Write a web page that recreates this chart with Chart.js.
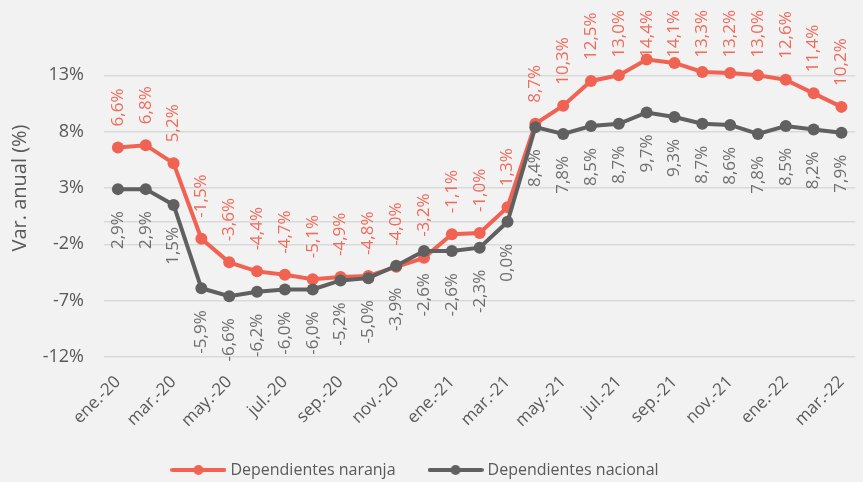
<!DOCTYPE html>
<html>
<head>
<meta charset="utf-8">
<script src="https://cdn.jsdelivr.net/npm/chart.js@4"></script>
<style>
  html, body { margin: 0; padding: 0; background: #f2f2f2; }
  #wrap { width: 863px; height: 482px; }
</style>
</head>
<body>
<div id="wrap"><canvas id="chart" width="863" height="482"></canvas></div>
<script>
// Data
const months = ['ene.-20', 'feb.-20', 'mar.-20', 'abr.-20', 'may.-20', 'jun.-20', 'jul.-20', 'ago.-20', 'sep.-20',
    'oct.-20', 'nov.-20', 'dic.-20', 'ene.-21', 'feb.-21', 'mar.-21', 'abr.-21', 'may.-21', 'jun.-21', 'jul.-21',
    'ago.-21', 'sep.-21', 'oct.-21', 'nov.-21', 'dic.-21', 'ene.-22', 'feb.-22', 'mar.-22'];
const naranja = [6.6, 6.8, 5.2, -1.5, -3.6, -4.4, -4.7, -5.1, -4.9, -4.8, -4.0, -3.2, -1.1, -1.0, 1.3,
    8.7, 10.3, 12.5, 13.0, 14.4, 14.1, 13.3, 13.2, 13.0, 12.6, 11.4, 10.2];
const nacional = [2.9, 2.9, 1.5, -5.9, -6.6, -6.2, -6.0, -6.0, -5.2, -5.0, -3.9, -2.6, -2.6, -2.3, 0.0,
    8.4, 7.8, 8.5, 8.7, 9.7, 9.3, 8.7, 8.6, 7.8, 8.5, 8.2, 7.9];
const yTicks = [-12, -7, -2, 0, 3, 8, 13];

const ORANGE = '#f06352';
const GRAY = '#606060';
const FONT = "'Open Sans', sans-serif";

function legendMarker(color) {
    const c = document.createElement('canvas');
    c.width = 56; c.height = 14;
    const g = c.getContext('2d');
    g.strokeStyle = color;
    g.lineWidth = 4;
    g.lineCap = 'round';
    g.beginPath(); g.moveTo(2, 7); g.lineTo(54, 7); g.stroke();
    g.fillStyle = color;
    g.beginPath(); g.arc(28, 7, 5, 0, Math.PI * 2); g.fill();
    return c;
}

function fmt(v) {
    return v.toFixed(1).replace('.', ',') + '%';
}

// vertical value labels: orange above, gray below (kept inside the top edge like Excel does)
const valueLabels = {
    id: 'valueLabels',
    afterDatasetsDraw(chart) {
        const ctx = chart.ctx;
        chart.data.datasets.forEach((ds, i) => {
            const meta = chart.getDatasetMeta(i);
            meta.data.forEach((pt, j) => {
                const text = fmt(ds.data[j]);
                ctx.save();
                ctx.font = '17px ' + FONT;
                ctx.fillStyle = ds.labelColor;
                ctx.textBaseline = 'middle';
                if (ds.labelPos === 'above') {
                    const w = ctx.measureText(text).width;
                    const y = Math.max(pt.y - 21, 10 + w);
                    ctx.translate(pt.x, y);
                    ctx.rotate(-Math.PI / 2);
                    ctx.textAlign = 'left';
                } else {
                    ctx.translate(pt.x, pt.y + 22);
                    ctx.rotate(-Math.PI / 2);
                    ctx.textAlign = 'right';
                }
                ctx.fillText(text, 0, 0);
                ctx.restore();
            });
        });
    }
};

const tweakLayout = {
    id: 'tweakLayout',
    afterLayout(chart) {
        chart.legend.left -= 15;
        chart.legend.right -= 15;
        chart.legend.top += 6;
        chart.legend.bottom += 6;
        // x labels are clipped to the scale box, let them run a bit lower
        chart.scales.x.bottom += 25;
    }
};

new Chart(document.getElementById('chart'), {
    type: 'line',
    data: {
        labels: months,
        datasets: [{
            label: 'Dependientes naranja',
            data: naranja,
            borderColor: ORANGE,
            backgroundColor: ORANGE,
            borderWidth: 4,
            pointRadius: 6,
            pointBorderWidth: 0,
            tension: 0,
            order: 1,
            labelColor: '#f06b5b',
            labelPos: 'above',
            marker: legendMarker(ORANGE)
        }, {
            label: 'Dependientes nacional',
            data: nacional,
            borderColor: GRAY,
            backgroundColor: GRAY,
            borderWidth: 4,
            pointRadius: 6,
            pointBorderWidth: 0,
            tension: 0,
            order: 0,
            labelColor: '#6e6e6e',
            labelPos: 'below',
            marker: legendMarker(GRAY)
        }]
    },
    options: {
        responsive: false,
        animation: false,
        layout: { padding: { top: 19, right: 0, left: 0, bottom: 0 } },
        plugins: {
            tooltip: { enabled: false },
            legend: {
                position: 'bottom',
                labels: {
                    usePointStyle: true,
                    pointStyleWidth: 48,
                    padding: 36,
                    color: '#595959',
                    font: { family: FONT, size: 16 },
                    sort: (a, b) => a.datasetIndex - b.datasetIndex,
                    generateLabels(chart) {
                        return chart.data.datasets.map((ds, i) => ({
                            text: ds.label,
                            pointStyle: ds.marker,
                            fillStyle: ds.borderColor,
                            strokeStyle: ds.borderColor,
                            lineWidth: 0,
                            fontColor: '#595959',
                            hidden: false,
                            datasetIndex: i
                        }));
                    }
                }
            }
        },
        scales: {
            x: {
                grid: { display: false },
                border: { display: false },
                offset: true,
                ticks: {
                    autoSkip: false,
                    maxRotation: 45,
                    minRotation: 45,
                    padding: 7,
                    color: '#595959',
                    font: { family: FONT, size: 17 },
                    callback: function(value, index) {
                        return index % 2 === 0 ? months[index] : '';
                    }
                },
                afterFit: function(scale) { scale.height = 63; }
            },
            y: {
                min: -12,
                max: 18,
                afterBuildTicks: function(scale) {
                    scale.ticks = yTicks.map(v => ({ value: v }));
                },
                grid: { color: '#d9d9d9', lineWidth: 1.5, drawTicks: false },
                border: { display: false },
                ticks: {
                    padding: 20,
                    color: '#595959',
                    font: { family: FONT, size: 18 },
                    callback: v => v === 0 ? '' : v + '%'
                },
                title: {
                    display: true,
                    text: 'Var. anual (%)',
                    color: '#595959',
                    font: { family: FONT, size: 20 },
                    padding: { top: 8, bottom: 0 }
                },
                afterFit: function(scale) {
                    scale.width = 104;
                    scale.paddingTop = 0;
                    scale.paddingBottom = 0;
                }
            }
        }
    },
    plugins: [valueLabels, tweakLayout]
});
</script>
</body>
</html>
